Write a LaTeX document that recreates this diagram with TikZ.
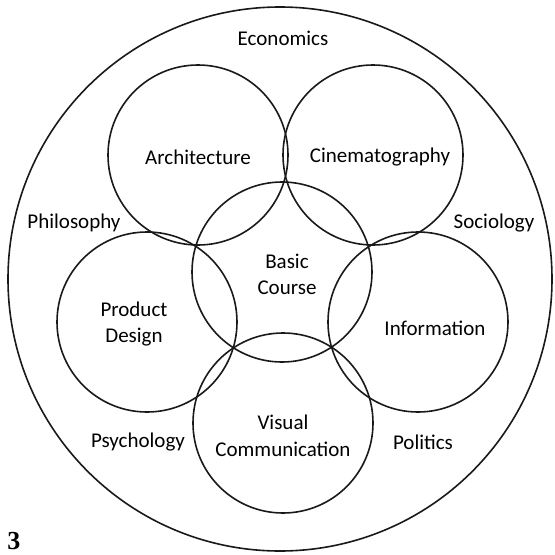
\documentclass[tikz,border=0pt]{standalone}
\usepackage{fontspec}
\setmainfont{Carlito}
\newfontfamily\numfont{Liberation Serif}
\begin{document}
\begin{tikzpicture}[x=1pt,y=-1pt,
  ring/.style={draw=black!90,line width=1.6pt,circle,inner sep=0pt,minimum size=180pt},
  lbl/.style={font=\fontsize{21}{25}\selectfont,text=black,align=center,inner sep=0pt}]
\useasboundingbox (0,0) rectangle (555,555);
\node[draw=black!90,line width=1.6pt,circle,inner sep=0pt,minimum size=544pt] (outer) at (280,279) {};
\node[ring] (arch) at (198,155) {};
\node[ring] (cine) at (373,155) {};
\node[ring] (basic) at (282,272) {};
\node[ring] (prod) at (147,322) {};
\node[ring] (info) at (418,322) {};
\node[ring] (vis) at (283,423) {};
\node[lbl] (econ) at (283,38) {Economics};
\node[lbl] (larch) at (198,157) {Architecture};
\node[lbl] (lcine) at (380,157) {Cinematography};
\node[lbl] (phil) at (74,223) {Philosophy};
\node[lbl] (soc) at (494,223) {Sociology};
\node[lbl] (lbasic) at (287,274) {Basic\\[1pt]Course};
\node[lbl] (lprod) at (134,324) {Product\\[1pt]Design};
\node[lbl] (linfo) at (435,328) {Information};
\node[lbl] (lvis) at (283,436) {Visual\\[2pt]Communication};
\node[lbl] (psy) at (138,442) {Psychology};
\node[lbl] (pol) at (423,442) {Politics};
\node[font=\numfont\bfseries\fontsize{26}{30}\selectfont,inner sep=0pt] (num) at (14,541) {3};
\end{tikzpicture}
\end{document}
